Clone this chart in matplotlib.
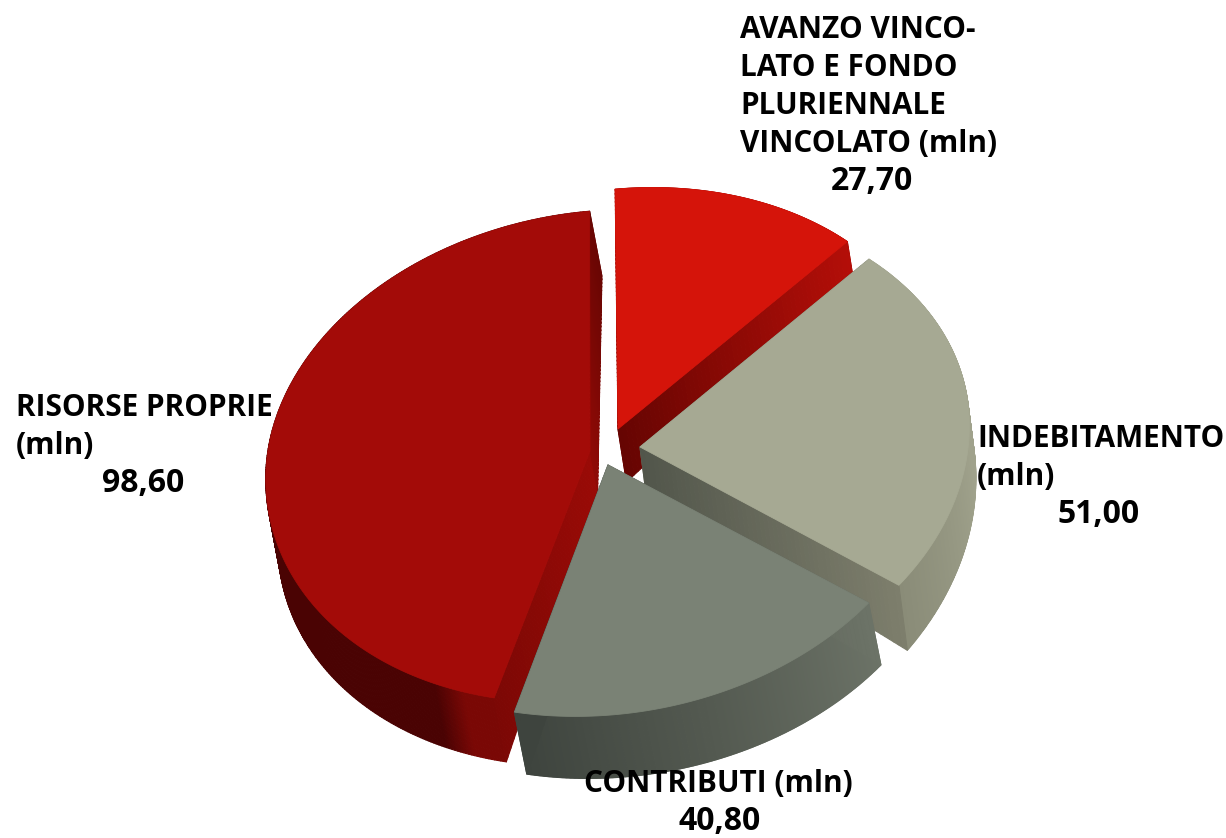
import numpy as np
import matplotlib
matplotlib.use("Agg")
import matplotlib.pyplot as plt
from matplotlib.collections import PolyCollection
from matplotlib.colors import to_rgb

# data, clockwise from the top of the pie
names = [
    ["AVANZO VINCO-", "LATO E FONDO", "PLURIENNALE", "VINCOLATO (mln)"],
    ["INDEBITAMENTO", "(mln)"],
    ["CONTRIBUTI (mln)"],
    ["RISORSE PROPRIE", "(mln)"],
]
values = [27.70, 51.00, 40.80, 98.60]

# look of each slice
top_colors = ["#D5140A", "#A6A993", "#7A8275", "#A30B08"]
apex_x = [618, 640, 608, 590]
apex_y = [429, 447, 465, 451]
radius_x = [323, 330, 335, 324]
shear = [0.0, 0.028, 0.012, -0.01]
depth_rim_first = [32, 32, 62, 64]
depth_rim_last = [32, 65, 62, 65]
depth_apex = [53, 42, 45, 40]
depth_shift = [0.16, 0.13, 0.2, 0.19]
rim_colors = [
    [(0, "#B00E08"), (1, "#B00E08")],
    [(0, "#A3A58F"), (0.6, "#A0A28C"), (1, "#8A8C78")],
    [(0, "#6C7367"), (0.5, "#545A51"), (1, "#3E443E")],
    [(0, "#7A0805"), (0.035, "#7A0805"), (0.07, "#4A0303"), (0.7, "#4A0303"), (1, "#5A0504")],
]
wall_first_colors = [
    [(0, "#7A0805"), (1, "#B00E08")],
    [(0, "#7A7C6A"), (1, "#7A7C6A")],
    [(0, "#55594F"), (1, "#6C7367")],
    [(0, "#9A0A06"), (1, "#7C0805")],
]
wall_last_colors = [
    [(0, "#660502"), (1, "#B30E08")],
    [(0, "#52564B"), (1, "#7D7E6C")],
    [(0, "#3E443E"), (1, "#3E443E")],
    [(0, "#900A06"), (1, "#6A0603")],
]

label_x = [740, 977, 584, 16]
label_y = [38, 447, 792, 416]
value_x = [872, 1099, 720, 143]
line_step = 38

start_angle = 90.5
ry_back = 240
ry_front = 250
tilt = 0.08


def rim_points(theta, cx, cy, rx, sh):
    ry = np.where(np.sin(theta) > 0, ry_back, ry_front)
    dx = rx * np.cos(theta)
    dy = -ry * np.sin(theta) - tilt * dx
    return cx + dx + sh * dy, cy + dy


def ramp(stops, n):
    pos = [s[0] for s in stops]
    rgb = np.array([to_rgb(s[1]) for s in stops])
    t = np.linspace(0, 1, n)
    return np.column_stack([np.interp(t, pos, rgb[:, i]) for i in range(3)])


def add_strip(ax, x1, y1, x2, y2, colors):
    polys = []
    for i in range(len(x1) - 1):
        polys.append([(x1[i], y1[i]), (x1[i + 1], y1[i + 1]), (x2[i + 1], y2[i + 1]), (x2[i], y2[i])])
    ax.add_collection(PolyCollection(polys, facecolors=colors, edgecolors=colors, linewidths=0.8))


fig = plt.figure(figsize=(12.26, 8.38), dpi=100)
ax = fig.add_axes([0, 0, 1, 1])
ax.set_xlim(0, 1226)
ax.set_ylim(838, 0)
ax.axis("off")

sweeps = np.array(values) / sum(values) * 360
edges = start_angle - np.concatenate([[0], np.cumsum(sweeps)])

# back slices first, each one overlaps the one before
for i in [3, 0, 1, 2]:
    cx, cy = apex_x[i], apex_y[i]
    theta = np.radians(np.linspace(edges[i], edges[i + 1], 300))
    x, y = rim_points(theta, cx, cy, radius_x[i], shear[i])
    d = np.linspace(depth_rim_first[i], depth_rim_last[i], len(theta))
    k = depth_shift[i]

    # outer rim
    add_strip(ax, x, y, x + k * d, y + d, ramp(rim_colors[i], len(theta) - 1))

    # the two cut faces, shaded from apex to rim
    t = np.linspace(0, 1, 60)
    for end, stops in ((0, wall_first_colors[i]), (-1, wall_last_colors[i])):
        ex, ey = x[end], y[end]
        upper_x = cx + t * (ex - cx)
        upper_y = cy + t * (ey - cy)
        dd = depth_apex[i] + t * (d[end] - depth_apex[i])
        add_strip(ax, upper_x, upper_y, upper_x + k * dd, upper_y + dd, ramp(stops, len(t) - 1))

    # top face
    ax.fill(np.r_[cx, x], np.r_[cy, y], color=top_colors[i], lw=0.6)

txt = dict(family="Open Sans", fontweight="bold", color="black", zorder=10)
for i in range(len(values)):
    for j, line in enumerate(names[i]):
        ax.text(label_x[i], label_y[i] + j * line_step, line, ha="left", va="baseline", fontsize=21.4, **txt)
    value_text = f"{values[i]:.2f}".replace(".", ",")
    ax.text(value_x[i], label_y[i] + len(names[i]) * line_step, value_text, ha="center", va="baseline", fontsize=23, **txt)

fig.savefig("out.png", dpi=100)
